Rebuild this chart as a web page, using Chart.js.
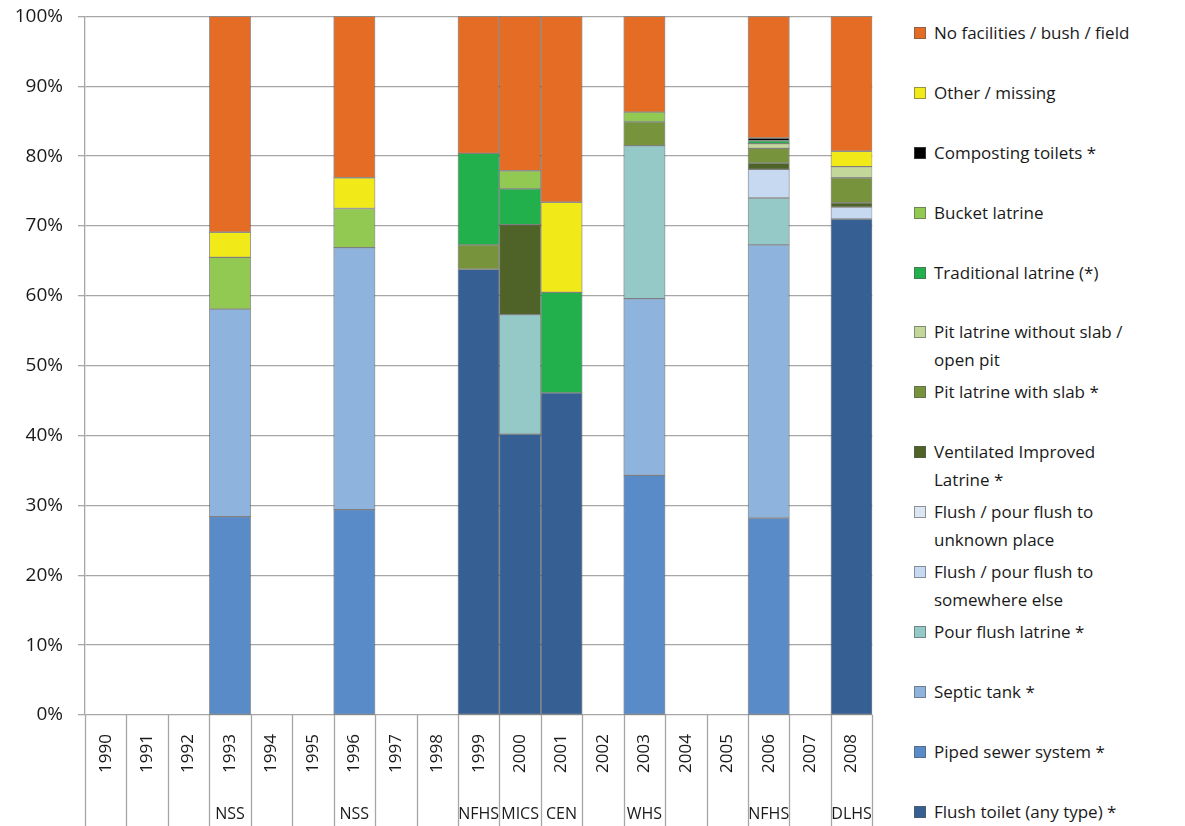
<!DOCTYPE html>
<html>
<head>
<meta charset="utf-8">
<script src="https://cdn.jsdelivr.net/npm/chart.js@4/dist/chart.umd.min.js"></script>
<style>
  html, body { margin: 0; padding: 0; background: #fff; }
  body { width: 1185px; height: 826px; position: relative; overflow: hidden; font-family: "Open Sans", sans-serif; }
  #chartBox { position: absolute; left: 0; top: -10px; width: 883px; height: 836px; }
  #legend { position: absolute; left: 914px; top: 19px; margin: 0; padding: 0; list-style: none; }
  #legend li { height: 59.9px; position: relative; padding-left: 20px; font-size: 17px; line-height: 28px; color: #1a1a1a; white-space: pre-line; }
  #legend li span { position: absolute; left: 0; top: 8px; width: 12px; height: 12px; box-sizing: border-box; border: 1px solid rgba(90,90,90,0.6); }
</style>
</head>
<body>
<div id="chartBox"><canvas id="sanChart"></canvas></div>
<ul id="legend"></ul>
<script>
// categories
const years = ['1990','1991','1992','1993','1994','1995','1996','1997','1998','1999',
               '2000','2001','2002','2003','2004','2005','2006','2007','2008'];
const surveys = ['','','','NSS','','','NSS','','','NFHS','MICS','CEN','','WHS','','','NFHS','','DLHS'];

// shares in %, one value per year (null = no survey)
const flushToilet   = [null,null,null,null,null,null,null,null,null,63.8,40.2,46.1,null,null,null,null,null,null,71.0];
const pipedSewer    = [null,null,null,28.4,null,null,29.4,null,null,null,null,null,null,34.3,null,null,28.2,null,null];
const septicTank    = [null,null,null,29.7,null,null,37.5,null,null,null,null,null,null,25.3,null,null,39.1,null,null];
const pourFlush     = [null,null,null,null,null,null,null,null,null,null,17.1,null,null,21.9,null,null,6.7,null,null];
const flushElse     = [null,null,null,null,null,null,null,null,null,null,null,null,null,null,null,null,4.1,null,1.7];
const flushUnknown  = [null,null,null,null,null,null,null,null,null,null,null,null,null,null,null,null,null,null,null];
const vipLatrine    = [null,null,null,null,null,null,null,null,null,null,12.9,null,null,null,null,null,0.9,null,0.6];
const pitSlab       = [null,null,null,null,null,null,null,null,null,3.5,null,null,null,3.4,null,null,2.1,null,3.6];
const pitNoSlab     = [null,null,null,null,null,null,null,null,null,null,null,null,null,null,null,null,0.7,null,1.6];
const traditional   = [null,null,null,null,null,null,null,null,null,13.1,5.1,14.4,null,null,null,null,0.4,null,null];
const bucket        = [null,null,null,7.4,null,null,5.6,null,null,null,2.6,null,null,1.4,null,null,null,null,null];
const composting    = [null,null,null,null,null,null,null,null,null,null,null,null,null,null,null,null,0.4,null,null];
const otherMissing  = [null,null,null,3.6,null,null,4.4,null,null,null,null,12.9,null,null,null,null,null,null,2.2];
const noFacilities  = [null,null,null,30.9,null,null,23.1,null,null,19.6,22.1,26.6,null,13.7,null,null,17.4,null,19.3];

const yTicks = [0,10,20,30,40,50,60,70,80,90,100];

// stacking order, bottom first
const series = [
  { label: 'Flush toilet (any type) *', data: flushToilet, color: '#366093' },
  { label: 'Piped sewer system *', data: pipedSewer, color: '#588BC7' },
  { label: 'Septic tank *', data: septicTank, color: '#8EB3DD' },
  { label: 'Pour flush latrine *', data: pourFlush, color: '#95C9C8' },
  { label: 'Flush / pour flush to\nsomewhere else', data: flushElse, color: '#C6D9F0' },
  { label: 'Flush / pour flush to\nunknown place', data: flushUnknown, color: '#DCE6F2' },
  { label: 'Ventilated Improved\nLatrine *', data: vipLatrine, color: '#4F6228' },
  { label: 'Pit latrine with slab *', data: pitSlab, color: '#77933C' },
  { label: 'Pit latrine without slab /\nopen pit', data: pitNoSlab, color: '#C4D79B' },
  { label: 'Traditional latrine (*)', data: traditional, color: '#22B04D' },
  { label: 'Bucket latrine', data: bucket, color: '#92C952' },
  { label: 'Composting toilets *', data: composting, color: '#000000' },
  { label: 'Other / missing', data: otherMissing, color: '#F2EA18' },
  { label: 'No facilities / bush / field', data: noFacilities, color: '#E46C24' }
];

const GRID = '#a6a6a6';
const TEXT = '#1a1a1a';

// vertical separators under the category axis
const dividerPlugin = {
  id: 'dividers',
  afterDraw(chart) {
    const { ctx, chartArea, scales: { x } } = chart;
    const half = (x.getPixelForValue(1) - x.getPixelForValue(0)) / 2;
    ctx.save();
    ctx.strokeStyle = GRID;
    ctx.lineWidth = 1.3;
    for (let i = 0; i <= years.length; i++) {
      const px = Math.round(x.getPixelForValue(i) - half) + 0.5;
      ctx.beginPath();
      ctx.moveTo(px, chartArea.bottom);
      ctx.lineTo(px, chart.height);
      ctx.stroke();
    }
    ctx.restore();
  }
};

const chart = new Chart(document.getElementById('sanChart'), {
  type: 'bar',
  data: {
    labels: years,
    datasets: series.map(s => ({
      label: s.label,
      data: s.data,
      backgroundColor: s.color,
      borderColor: 'rgba(70,70,70,0.55)',
      borderWidth: 1,
      borderSkipped: false,
      barPercentage: 1,
      categoryPercentage: 1
    }))
  },
  options: {
    responsive: true,
    maintainAspectRatio: false,
    devicePixelRatio: 1,
    animation: false,
    layout: { padding: { top: 5, right: 0, left: 0, bottom: 0 } },
    plugins: {
      legend: { display: false },
      tooltip: { enabled: false }
    },
    scales: {
      x: {
        stacked: true,
        offset: true,
        grid: { display: false },
        border: { display: false },
        ticks: {
          autoSkip: false,
          minRotation: 90,
          maxRotation: 90,
          padding: 11,
          color: TEXT,
          font: { family: 'Open Sans', size: 17 }
        },
        afterFit: s => { s.height = 82; }
      },
      x2: {
        type: 'category',
        labels: surveys,
        position: 'bottom',
        offset: true,
        grid: { display: false },
        border: { display: false },
        ticks: {
          autoSkip: false,
          maxRotation: 0,
          minRotation: 0,
          padding: 0,
          color: TEXT,
          font: { family: 'Open Sans', size: 16 }
        },
        afterFit: s => { s.height = 29; }
      },
      y: {
        stacked: true,
        min: 0,
        max: 100,
        afterBuildTicks: s => { s.ticks = yTicks.map(v => ({ value: v })); },
        grid: { color: GRID, lineWidth: 1.3, tickLength: 7 },
        border: { color: GRID, width: 1.3 },
        ticks: {
          padding: 15,
          color: TEXT,
          font: { family: 'Open Sans', size: 19 },
          callback: v => v + '%'
        },
        afterFit: s => { s.width = 85; }
      }
    }
  },
  plugins: [dividerPlugin]
});

// legend, top item = last stacked series
const legendEl = document.getElementById('legend');
chart.data.datasets.slice().reverse().forEach(ds => {
  const li = document.createElement('li');
  const box = document.createElement('span');
  box.style.background = ds.backgroundColor;
  li.appendChild(box);
  li.appendChild(document.createTextNode(ds.label));
  legendEl.appendChild(li);
});
</script>
</body>
</html>
